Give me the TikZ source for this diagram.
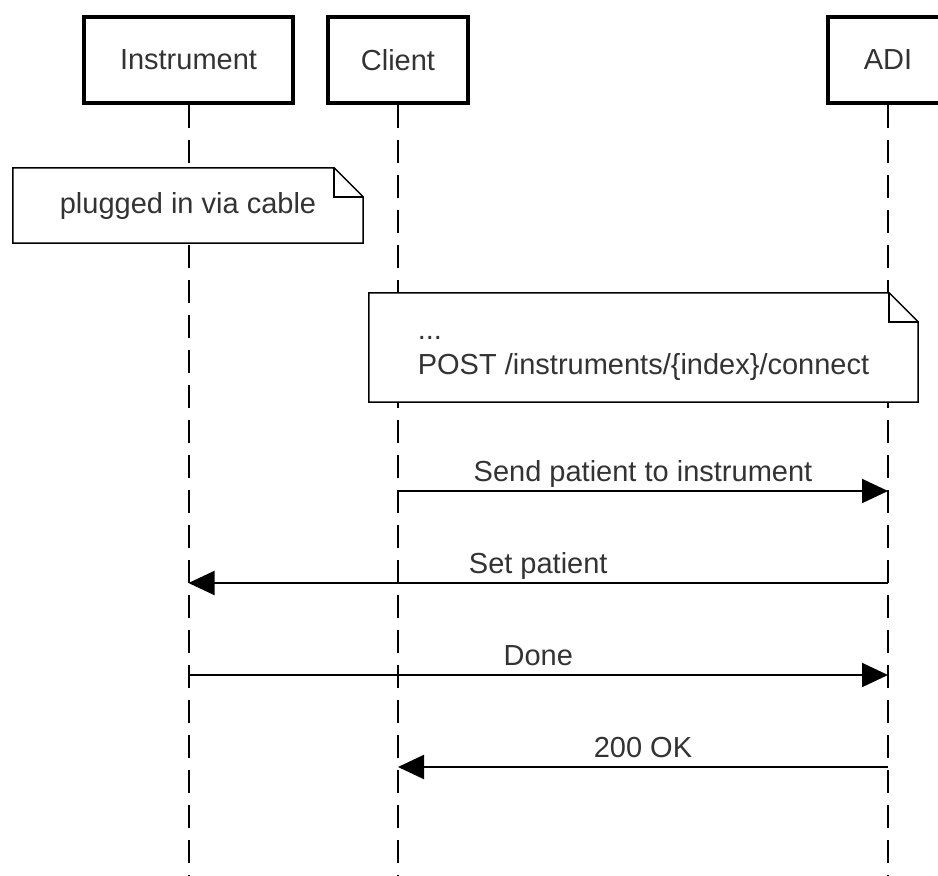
\documentclass[tikz,border=0pt]{standalone}
\usepackage{fontspec}
\setmainfont{Liberation Sans}
\usetikzlibrary{arrows.meta}

\tikzset{
	actor/.style={draw, line width=4pt, minimum height=86pt, inner sep=0pt},
	lifeline/.style={line width=2pt, dash pattern=on 23pt off 12pt},
	notebox/.style={fill=white, inner sep=0pt},
	notedraw/.style={line width=1.5pt},
	msg/.style={line width=2pt, -{Triangle[length=26pt,width=24pt]}},
	msglabel/.style={anchor=base, yshift=10pt, inner sep=0pt}
}

% note outline with a folded corner
\newcommand{\dogear}[1]{%
	\draw[notedraw] (#1.south west) -- (#1.north west) -- ([xshift=-29pt]#1.north east)
		-- ([yshift=-29pt]#1.north east) -- (#1.south east) -- cycle;
	\draw[notedraw] ([xshift=-29pt]#1.north east) |- ([yshift=-29pt]#1.north east);
}

\begin{document}
\begin{tikzpicture}[x=1pt, y=-1pt, font=\fontsize{29}{35}\selectfont, text=black!80]
		\useasboundingbox (0,0) rectangle (938,876);
		\clip (0,0) rectangle (938,876);
		% participants
		\node[actor, minimum width=209pt] (ins) at (188.5,60) {Instrument};
		\node[actor, minimum width=140pt] (cli) at (398,60) {Client};
		\node[actor, minimum width=120pt] (adi) at (888,60) {ADI};
		% lifelines
		\coordinate (bottom) at (0,876);
		\draw[lifeline] (ins.south) -- (ins.south |- bottom);
		\draw[lifeline] (cli.south) -- (cli.south |- bottom);
		\draw[lifeline] (adi.south) -- (adi.south |- bottom);
		% notes
		\node[notebox, minimum width=350pt, minimum height=75pt] (cable) at (188,205.5) {plugged in via cable};
		\dogear{cable}
		\node[notebox, minimum width=549pt, minimum height=109pt, align=left] (post) at (643.5,347.5)
			{\strut...\\POST /instruments/\{index\}/connect};
		\dogear{post}
		% messages
		\coordinate (m1) at (0,491);
		\coordinate (m2) at (0,583);
		\coordinate (m3) at (0,675);
		\coordinate (m4) at (0,767);
		\draw[msg] (cli |- m1) -- node[msglabel] {Send patient to instrument} (adi |- m1);
		\draw[msg] (adi |- m2) -- node[msglabel] {Set patient} (ins |- m2);
		\draw[msg] (ins |- m3) -- node[msglabel] {Done} (adi |- m3);
		\draw[msg] (adi |- m4) -- node[msglabel] {200 OK} (cli |- m4);
	\end{tikzpicture}
\end{document}
